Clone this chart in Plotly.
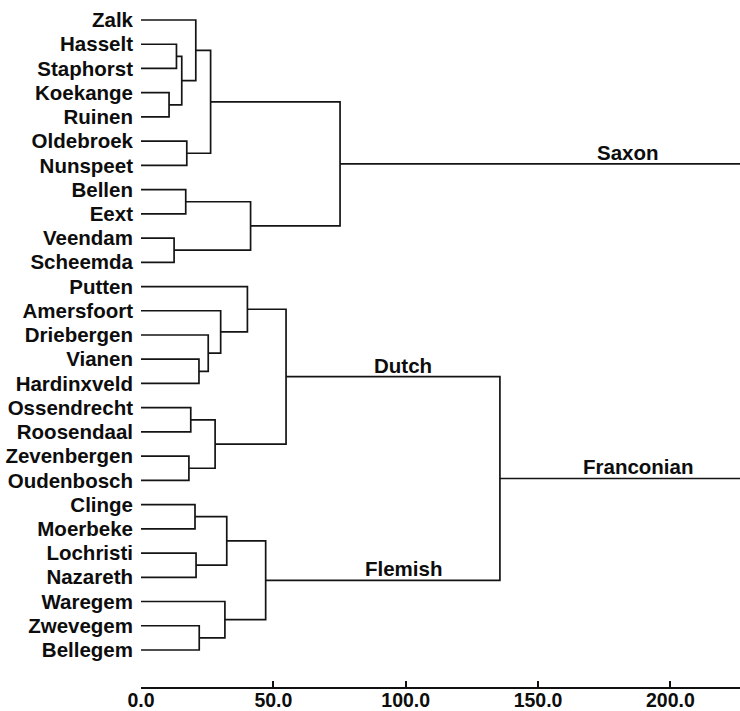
import plotly.graph_objects as go

# Dialect locations, top to bottom
leaves = [
    "Zalk", "Hasselt", "Staphorst", "Koekange", "Ruinen", "Oldebroek", "Nunspeet",
    "Bellen", "Eext", "Veendam", "Scheemda",
    "Putten", "Amersfoort", "Driebergen", "Vianen", "Hardinxveld",
    "Ossendrecht", "Roosendaal", "Zevenbergen", "Oudenbosch",
    "Clinge", "Moerbeke", "Lochristi", "Nazareth", "Waregem", "Zwevegem", "Bellegem",
]

# Cluster merges: id, left child, right child, linkage distance
node_ids = [
    "s1", "s2", "s3", "s4", "s5", "s6", "s7", "s8", "s9", "Saxon",
    "d1", "d2", "d3", "d4", "d5", "d6", "d7", "Dutch",
    "f1", "f2", "f3", "f4", "f5", "Flemish",
    "Franconian",
]
node_left = [
    "Hasselt", "Koekange", "s1", "Zalk", "Oldebroek", "s4", "Bellen", "Veendam", "s7", "s6",
    "Vianen", "Driebergen", "Amersfoort", "Putten", "Ossendrecht", "Zevenbergen", "d5", "d4",
    "Clinge", "Lochristi", "f1", "Zwevegem", "Waregem", "f3",
    "Dutch",
]
node_right = [
    "Staphorst", "Ruinen", "s2", "s3", "Nunspeet", "s5", "Eext", "Scheemda", "s8", "s9",
    "Hardinxveld", "d1", "d2", "d3", "Roosendaal", "Oudenbosch", "d6", "d7",
    "Moerbeke", "Nazareth", "f2", "Bellegem", "f4", "f5",
    "Flemish",
]
node_height = [
    13.4, 10.6, 15.4, 20.7, 17.3, 26.3, 16.9, 12.5, 41.4, 75.2,
    21.9, 25.4, 30.1, 40.2, 18.8, 18.1, 28.0, 54.8,
    20.4, 20.8, 32.4, 22.0, 31.7, 47.1,
    135.6,
]

# Top-level clusters whose stems run off the right of the scale
stem_nodes = ["Saxon", "Franconian"]

# Named groups and where their names sit along the distance scale
group_names = ["Saxon", "Dutch", "Franconian", "Flemish"]
group_label_x = [184, 99, 188, 99]

x_ticks = [0, 50, 100, 150, 200]
x_max = 226.3

# Positions of every node: (distance, row)
pos = {name: (0.0, float(i)) for i, name in enumerate(leaves)}
xs, ys = [], []
for nid, a, b, h in zip(node_ids, node_left, node_right, node_height):
    (xa, ya), (xb, yb) = pos[a], pos[b]
    xs += [xa, h, h, xb, None]
    ys += [ya, ya, yb, yb, None]
    pos[nid] = (h, (ya + yb) / 2)

for nid in stem_nodes:
    h, y = pos[nid]
    xs += [h, x_max, None]
    ys += [y, y, None]

fig = go.Figure()
fig.add_trace(go.Scatter(
    x=xs, y=ys, mode="lines",
    line=dict(color="#141414", width=1.7),
    hoverinfo="skip", showlegend=False,
))

font = dict(family="Liberation Sans, Arial, sans-serif", size=20.5, color="#0d0d0d", weight="bold")
tick_font = dict(font, size=19.5)

for name, lx in zip(group_names, group_label_x):
    fig.add_annotation(
        x=lx, y=pos[name][1], text=name, showarrow=False,
        xanchor="center", yanchor="bottom", font=font, yshift=-2,
    )

fig.update_layout(
    width=740, height=711,
    margin=dict(l=141, r=0, t=0, b=24),
    paper_bgcolor="white", plot_bgcolor="white",
    showlegend=False,
)
fig.update_xaxes(
    range=[0, x_max], tickvals=x_ticks,
    ticktext=[f"{v:.1f}" for v in x_ticks],
    showline=True, linecolor="#111111", linewidth=2,
    ticks="inside", ticklen=6, tickwidth=1.5, tickcolor="#111111",
    showgrid=False, zeroline=False, tickfont=tick_font, automargin=False,
    ticklabelstandoff=-5,
)
fig.update_yaxes(
    range=[(687 - 20) / 24.23, -20 / 24.23],
    tickvals=list(range(len(leaves))), ticktext=leaves,
    showline=False, showgrid=False, zeroline=False, ticks="",
    ticklabelstandoff=7, tickfont=font, automargin=False,
)

fig.write_html("out.html")
